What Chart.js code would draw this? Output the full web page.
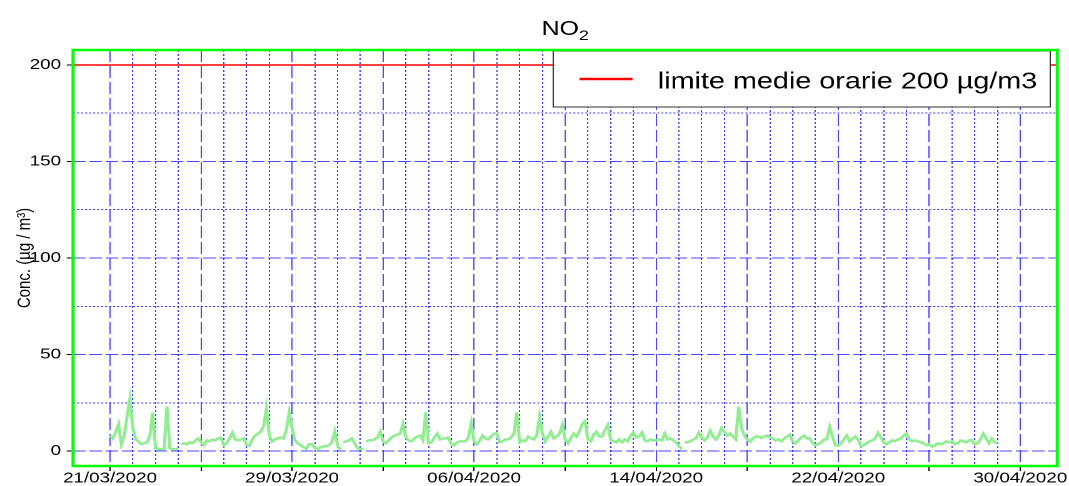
<!DOCTYPE html>
<html lang="it">
<head>
  <meta charset="UTF-8">
  <title>NO2</title>
  <script src="https://cdn.jsdelivr.net/npm/chart.js@4"></script>
  <style>
    html, body {
      margin: 0;
      padding: 0;
      background: #fff;
    }
    canvas {
      display: block;
    }
  </style>
</head>
<body>
  <!-- the original plot is stretched sideways, so draw at 855 px and show it at 1069 px -->
  <canvas id="chart" width="855" height="486" style="width:1069px;height:486px"></canvas>

  <script>
    // NO2 readings every 3 h, one array per week, starting 21/03/2020 00:00
    const week1 = [
      8, 6.5, 10, 14, 3.5, 8, 18, 27,        // 21/03
      12, 6, 5, 3.5, 4, 4.5, 8, 20,          // 22/03
      1.5, 1, 1, 1, 23, 1.5, 1, 1,           // 23/03
      1, 3.5, 4, 3.5, 4.5, 4, 5.5, 6.5,      // 24/03
      4.5, 3, 5.5, 5, 6, 5.5, 6.5, 7,        // 25/03
      3, 4, 6.5, 9.5, 6, 5.5, 6, 6.5,        // 26/03
      3.3, 2.8, 6, 8, 9, 10, 13, 22          // 27/03
    ];
    const week2 = [
      8, 4.8, 6, 6.5, 7, 6.5, 11, 20,        // 28/03
      12, 5.5, 4, 3, 2, 1.2, 3.5, 3.5,       // 29/03
      1.6, 1, 2, 2.4, 2.5, 3, 4.5, 10,       // 30/03
      3, 0.7, 4.5, 5, 5.5, 6.5, 4, 1.5,      // 31/03
      1, 1.2, 5, 5.5, 5.5, 6, 7, 10,         // 01/04
      5, 4, 5.5, 7, 8, 8.5, 9, 14,           // 02/04
      7, 5.5, 5, 6.5, 7.5, 8, 5.5, 20        // 03/04
    ];
    const week3 = [
      4, 4.5, 7, 9, 6, 6.5, 6.5, 7,          // 04/04
      3.5, 3, 4.5, 5, 5, 5, 7, 14.5,         // 05/04
      5, 3.5, 5.5, 8, 6.5, 6, 7.5, 9,        // 06/04
      9, 4.5, 5, 6, 6, 7, 9, 20,             // 07/04
      4.5, 5.5, 5, 7.5, 6.5, 6, 8, 18,       // 08/04
      9, 5, 7.5, 10, 6.5, 7.5, 9, 13.5,      // 09/04
      6, 4, 6.5, 9, 7.5, 10, 14, 15.5        // 10/04
    ];
    const week4 = [
      6, 5, 8.5, 10, 7.5, 7.5, 11, 13.5,     // 11/04
      6, 5, 4.5, 6, 4.5, 6, 5, 8,            // 12/04
      9.5, 7, 7.5, 9.5, 5.5, 5, 6, 5.5,      // 13/04
      5.5, 6, 5.5, 9, 6, 6.5, 5.5, 4.5,      // 14/04
      2.5, 1, 4.5, 4.5, 5, 6, 6.5, 9.5,      // 15/04
      7, 5.5, 7, 10.5, 7.5, 6, 8, 12,        // 16/04
      10, 8, 9, 7.5, 6, 23, 12, 8            // 17/04
    ];
    const week5 = [
      5.9, 4.8, 6.5, 7.5, 7.5, 6.7, 7.5, 8,  // 18/04
      7, 6.5, 5.5, 6, 5, 6.5, 7.5, 8.5,      // 19/04
      5, 4, 5.5, 7, 8, 6.5, 6.5, 4,          // 20/04
      3, 3.5, 4.5, 6, 6, 12.5, 7.5, 3,       // 21/04
      2.8, 4, 6, 8, 5, 6.5, 7.5, 6,          // 22/04
      2.5, 3, 4, 5, 5.5, 6.5, 9.5, 7,        // 23/04
      4.5, 3.5, 4.5, 5.5, 5, 6, 6.5, 8       // 24/04
    ];
    const week6 = [
      9, 6, 5, 5.5, 5, 4.5, 4, 3,            // 25/04
      3.5, 2.2, 3, 4, 3.5, 4, 5, 4.5,        // 26/04
      5, 3.5, 4, 5.5, 5, 4.5, 5.5, 5.5,      // 27/04
      3.5, 4, 6, 9, 6.5, 4, 6.5, 4.5,        // 28/04
      4                                      // 29/04
    ];
    // missing data (days after 21/03)
    const gaps = [3.06, 10.15, 11.15, 25.15];

    const limitValue = 200;
    const limitLabel = 'limite medie orarie 200 µg/m3';
    const dayTicks = Array.from({ length: 41 }, (_, i) => i);   // 21/03 .. 30/04
    const yTicks = [0, 25, 50, 75, 100, 125, 150, 175, 200];

    const X_MIN = -1.626, X_MAX = 41.626;
    const Y_MIN = -7.77, Y_MAX = 207.77;

    const values = [...week1, ...week2, ...week3, ...week4, ...week5, ...week6];
    const points = values.map((v, i) => ({ x: i / 8, y: v }))
      .concat(gaps.map(g => ({ x: g, y: null })))
      .sort((a, b) => a.x - b.x);

    function dayLabel(d) {
      const dt = new Date(2020, 2, 21 + d);
      const dd = String(dt.getDate()).padStart(2, '0');
      const mm = String(dt.getMonth() + 1).padStart(2, '0');
      return dd + '/' + mm + '/' + dt.getFullYear();
    }

    const FONT = '"Liberation Sans", Arial, sans-serif';
    const DASH_BLUE = 'rgba(40, 40, 255, 0.85)';
    const DOT_BLUE = 'rgba(40, 40, 255, 0.9)';

    // title with subscript
    const titlePlugin = {
      id: 'no2Title',
      afterDraw(chart) {
        const { ctx, chartArea: a } = chart;
        ctx.save();
        ctx.fillStyle = '#000';
        ctx.textBaseline = 'alphabetic';
        ctx.font = '20px ' + FONT;
        const w1 = ctx.measureText('NO').width;
        ctx.font = '14px ' + FONT;
        const w2 = ctx.measureText('2').width;
        const x0 = (a.left + a.right) / 2 - (w1 + w2) / 2;
        ctx.font = '20px ' + FONT;
        ctx.fillText('NO', x0, 35);
        ctx.font = '14px ' + FONT;
        ctx.fillText('2', x0 + w1, 40);
        ctx.restore();
      }
    };

    // boxed legend in the top right corner
    const legendBox = {
      id: 'legendBox',
      afterDatasetsDraw(chart) {
        const { ctx, chartArea: a } = chart;
        const ds = chart.data.datasets[1];
        ctx.save();
        ctx.font = '23px ' + FONT;
        const tw = ctx.measureText(ds.label).width;
        const right = a.right - 5.6;
        const top = a.top + 1;
        const h = 56;
        const left = right - (21 + 42.4 + 20.3 + tw + 10.4);
        ctx.fillStyle = '#fff';
        ctx.fillRect(left, top, right - left, h);
        ctx.strokeStyle = '#333';
        ctx.lineWidth = 1;
        ctx.strokeRect(left, top, right - left, h);
        ctx.strokeStyle = ds.borderColor;
        ctx.lineWidth = 2.5;
        ctx.beginPath();
        ctx.moveTo(left + 21, top + 28);
        ctx.lineTo(left + 63.4, top + 28);
        ctx.stroke();
        ctx.fillStyle = '#000';
        ctx.textBaseline = 'alphabetic';
        ctx.fillText(ds.label, left + 83.7, top + 37.3);
        ctx.restore();
      }
    };

    // green frame round the plot
    const frame = {
      id: 'frame',
      afterDraw(chart) {
        const { ctx, chartArea: a } = chart;
        ctx.save();
        ctx.strokeStyle = '#00ff00';
        ctx.lineWidth = 2.5;
        ctx.strokeRect(a.left, a.top, a.right - a.left, a.bottom - a.top);
        ctx.restore();
      }
    };

    Chart.defaults.font.family = FONT;
    Chart.defaults.color = '#000';

    new Chart(document.getElementById('chart'), {
      type: 'line',
      data: {
        datasets: [{
          label: 'NO2',
          data: points,
          borderColor: '#90ee90',
          borderWidth: 2.5,
          pointRadius: 0,
          spanGaps: false,
          tension: 0
        }, {
          label: limitLabel,
          data: [{ x: X_MIN, y: limitValue }, { x: X_MAX, y: limitValue }],
          borderColor: '#ff0000',
          borderWidth: 1.5,
          pointRadius: 0
        }]
      },
      options: {
        responsive: false,
        animation: false,
        devicePixelRatio: 2,
        layout: {
          padding: { top: 50, right: 9.4, bottom: 0, left: 0 }
        },
        plugins: {
          legend: { display: false },
          tooltip: { enabled: false },
          title: { display: false }
        },
        scales: {
          x: {
            type: 'linear',
            min: X_MIN,
            max: X_MAX,
            afterBuildTicks: s => { s.ticks = dayTicks.map(v => ({ value: v })); },
            afterFit: s => { s.height = 20; },
            ticks: {
              autoSkip: false,
              maxRotation: 0,
              padding: -1.5,
              font: { size: 15 },
              callback: v => (v % 8 === 0 ? dayLabel(v) : '')
            },
            grid: {
              lineWidth: 1,
              color: c => (c.tick && c.tick.value % 4 === 0 ? DASH_BLUE : DOT_BLUE),
              tickLength: 5,
              tickColor: c => (c.tick && c.tick.value % 4 === 0 ? '#000' : 'rgba(0,0,0,0)')
            },
            border: {
              display: false,
              dash: c => (c.tick && c.tick.value % 4 === 0 ? [12, 4] : [2, 2])
            }
          },
          y: {
            min: Y_MIN,
            max: Y_MAX,
            afterBuildTicks: s => { s.ticks = yTicks.map(v => ({ value: v })); },
            afterFit: s => { s.width = 58.4; },
            ticks: {
              padding: 4.6,
              font: { size: 15 },
              callback: v => (v % 50 === 0 ? String(v) : '')
            },
            grid: {
              lineWidth: 1,
              color: c => (c.tick && c.tick.value % 50 === 0 ? DASH_BLUE : DOT_BLUE),
              tickLength: 5,
              tickColor: c => (c.tick && c.tick.value % 50 === 0 ? '#000' : 'rgba(0,0,0,0)')
            },
            border: {
              display: false,
              dash: c => (c.tick && c.tick.value % 50 === 0 ? [10, 3] : [1.6, 1.6])
            },
            title: {
              display: true,
              text: 'Conc. (µg / m³)',
              font: { size: 15 },
              padding: { top: 11, bottom: 0 }
            }
          }
        }
      },
      plugins: [legendBox, frame, titlePlugin]
    });
  </script>
</body>
</html>
